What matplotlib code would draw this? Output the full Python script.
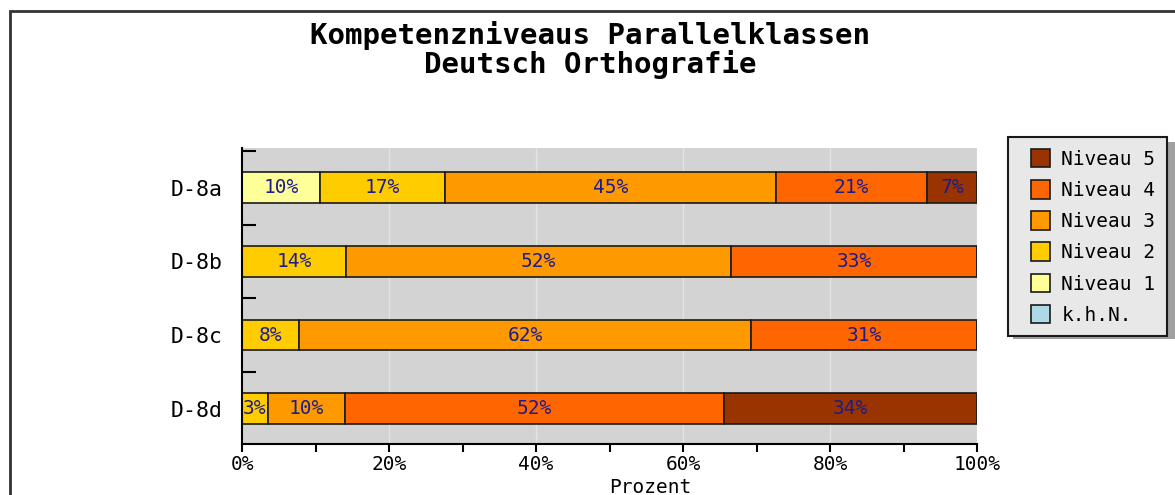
import matplotlib
matplotlib.use("Agg")
import matplotlib.pyplot as plt
from matplotlib.patches import Patch, Rectangle
from matplotlib.legend_handler import HandlerPatch

# Daten (Prozent je Klasse und Niveau)
klassen = ['D-8a', 'D-8b', 'D-8c', 'D-8d']
niveaus = ['k.h.N.', 'Niveau 1', 'Niveau 2', 'Niveau 3', 'Niveau 4', 'Niveau 5']
farben = ['#add8e6', '#ffff99', '#ffcc00', '#ff9900', '#ff6600', '#993300']

khn = [0.0, 0.0, 0.0, 0.0]
niveau1 = [10.6, 0.0, 0.0, 0.0]
niveau2 = [17.0, 14.1, 7.8, 3.5]
niveau3 = [45.0, 52.4, 61.5, 10.5]
niveau4 = [20.6, 33.5, 30.7, 51.6]
niveau5 = [6.8, 0.0, 0.0, 34.4]

label_khn = ['', '', '', '']
label_n1 = ['10%', '', '', '']
label_n2 = ['17%', '14%', '8%', '3%']
label_n3 = ['45%', '52%', '62%', '10%']
label_n4 = ['21%', '33%', '31%', '52%']
label_n5 = ['7%', '', '', '34%']

x_ticks = [0, 20, 40, 60, 80, 100]
x_ticklabels = ['0%', '20%', '40%', '60%', '80%', '100%']


def quadrat(legend, orig_handle, xdescent, ydescent, width, height, fontsize):
    # Quadrat rechtsbuendig im Handle-Bereich
    return Rectangle((-xdescent + width - height, -ydescent), height, height)


def main():
    plt.rcParams['font.family'] = ['DejaVu Sans Mono', 'DejaVu Sans']

    W, H = 1175, 495
    fig = plt.figure(figsize=(W / 100, H / 100), dpi=100)
    fig.patch.set_facecolor('white')

    # Rahmen oben und links
    fig.add_artist(Rectangle((10 / W, -0.1), 1.2, (H - 11) / H + 0.1, transform=fig.transFigure,
                             fill=False, edgecolor='#333333', linewidth=2))

    ax = fig.add_axes([242 / W, (H - 444) / H, 735 / W, (444 - 148) / H])
    ax.set_facecolor('#d3d3d3')

    serien = [khn, niveau1, niveau2, niveau3, niveau4, niveau5]
    labels = [label_khn, label_n1, label_n2, label_n3, label_n4, label_n5]
    pos = list(range(len(klassen)))
    links = [0.0] * len(klassen)
    for werte, texte, farbe, name in zip(serien, labels, farben, niveaus):
        bars = ax.barh(pos, werte, left=links, height=0.42, color=farbe,
                       edgecolor='#1a1a1a', linewidth=1.2, label=name)
        for b, t in zip(bars, texte):
            if t:
                ax.text(b.get_x() + b.get_width() / 2, b.get_y() + b.get_height() / 2, t,
                        ha='center', va='center', color='#1c1c8c', fontsize=14)
        links = [l + w for l, w in zip(links, werte)]

    ax.set_xlim(0, 100)
    ax.set_ylim(3.48, -0.54)
    ax.set_xticks(x_ticks)
    ax.set_xticklabels(x_ticklabels, fontsize=14)
    ax.set_xticks([10, 30, 50, 70, 90], minor=True)
    ax.set_yticks(pos)
    ax.set_yticklabels(klassen, fontsize=15.5)
    ax.set_yticks([-0.5, 0.5, 1.5, 2.5], minor=True)
    ax.tick_params(axis='y', which='major', length=0, pad=14)
    ax.tick_params(axis='y', which='minor', length=10, direction='in', width=1.5)
    ax.tick_params(axis='x', which='both', length=6, direction='out', width=1.5, pad=2)
    ax.grid(axis='x', color='#e4e4e4', linewidth=1)
    ax.set_axisbelow(True)
    for s in ['top', 'right']:
        ax.spines[s].set_visible(False)
    for s in ['left', 'bottom']:
        ax.spines[s].set_linewidth(1.5)

    ax.set_xlabel('Prozent', fontsize=14, labelpad=0)
    ax.xaxis.set_label_coords(0.5, -0.115)
    ax.xaxis.label.set_horizontalalignment('left')

    fig.text(590 / W, 1 - 50 / H, 'Kompetenzniveaus Parallelklassen\nDeutsch Orthografie',
             ha='center', va='center', fontsize=21, fontweight='bold', linespacing=1.0)

    # Schatten der Legende
    fig.add_artist(Rectangle((1013 / W, 1 - 339 / H), 164 / W, 197 / H, transform=fig.transFigure,
                             facecolor='#a0a0a0', edgecolor='none'))

    handles = [Patch(facecolor=c, edgecolor='#1a1a1a', linewidth=1.2) for c in farben][::-1]
    leg = fig.legend(handles, niveaus[::-1], loc='upper left',
                     bbox_to_anchor=(1008 / W, 1 - 137 / H), bbox_transform=fig.transFigure,
                     fontsize=14, frameon=True, fancybox=False, borderpad=0.6,
                     handlelength=1.55, handleheight=1.1, handletextpad=0.6,
                     labelspacing=0.58, borderaxespad=0,
                     handler_map={Patch: HandlerPatch(patch_func=quadrat)})
    leg.get_frame().set_facecolor('#e8e8e8')
    leg.get_frame().set_edgecolor('#1a1a1a')
    leg.get_frame().set_linewidth(1.5)
    leg.get_frame().set_alpha(1)

    fig.savefig('out.png', dpi=100)
    plt.close(fig)


if __name__ == "__main__":
    main()
